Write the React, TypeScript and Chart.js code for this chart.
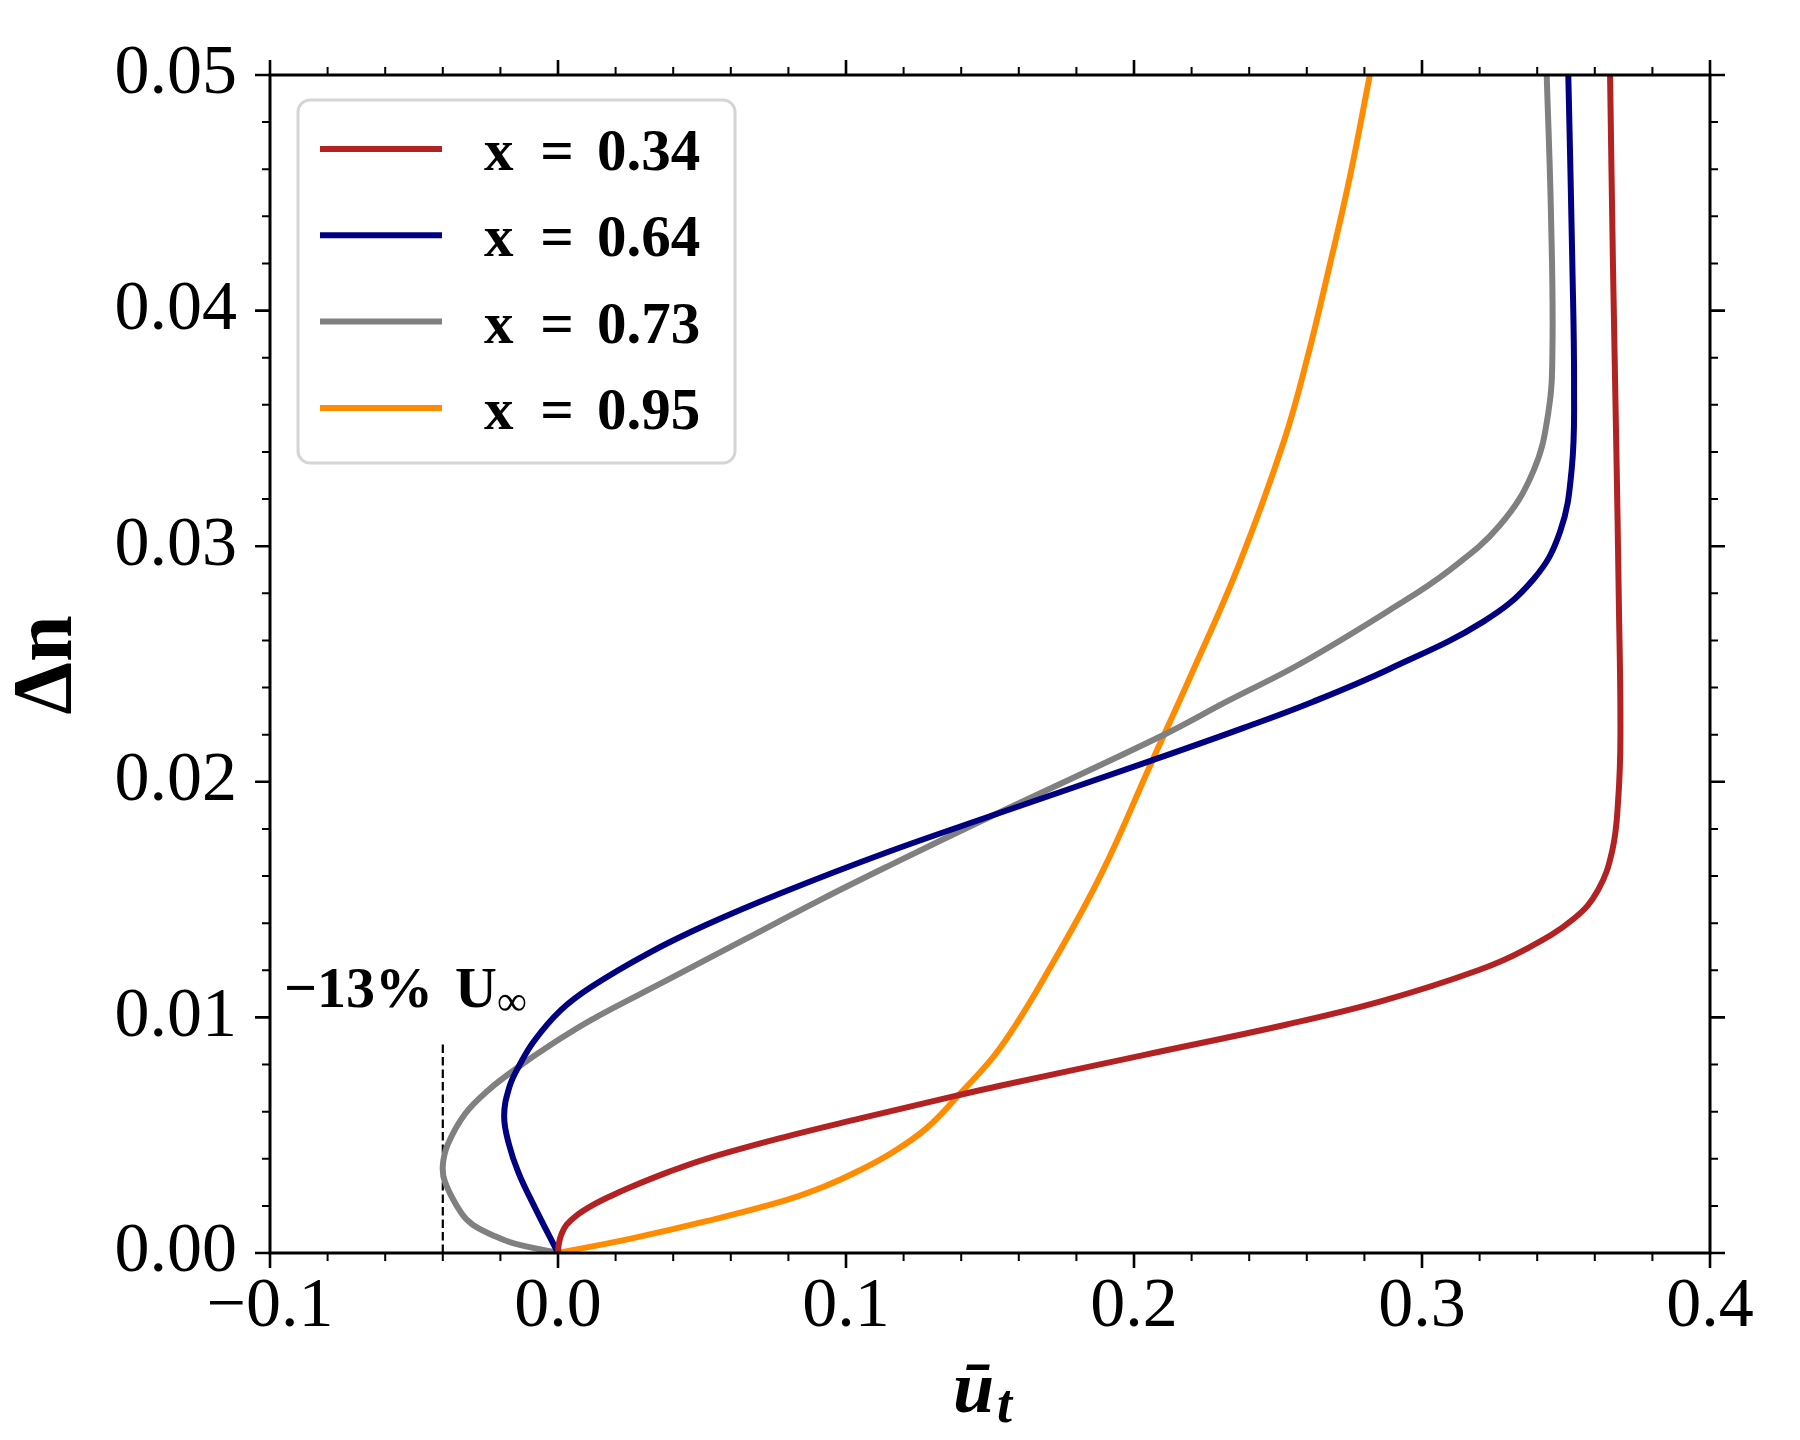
import React, { useEffect, useRef } from 'react';
import { Chart, registerables } from 'chart.js';

Chart.register(...registerables);

// ---------- data ----------
const SERIES_LABELS = ['x = 0.34', 'x = 0.64', 'x = 0.73', 'x = 0.95'];
const SERIES_COLORS = ['#b22222', '#000080', '#808080', '#ff8c00'];

const U_034 = [0, 0.0003, 0.0012, 0.003, 0.0065, 0.0116, 0.018, 0.0249, 0.038, 0.0515, 0.078, 0.1046, 0.1391, 0.1535, 0.2033, 0.2531, 0.2863, 0.3195, 0.3361, 0.3528, 0.3611, 0.3661, 0.3681, 0.3689, 0.3683, 0.3675, 0.3663, 0.3653];
const N_034 = [0, 0.0004, 0.0008, 0.0012, 0.0016, 0.002, 0.0024, 0.00278, 0.00342, 0.004, 0.0049, 0.0057, 0.0067, 0.0071, 0.0084, 0.0097, 0.0107, 0.012, 0.0129, 0.0142, 0.0154, 0.0171, 0.0192, 0.022, 0.028, 0.034, 0.042, 0.05];

const U_064 = [0, -0.0083, -0.0137, -0.017, -0.0187, -0.017, -0.0137, -0.0083, 0.0009, 0.0116, 0.0315, 0.0515, 0.0771, 0.1143, 0.1515, 0.206, 0.2383, 0.2622, 0.2889, 0.3213, 0.3387, 0.3479, 0.352, 0.3528, 0.3522, 0.3508];
const N_064 = [0, 0.002, 0.0034, 0.0046, 0.0058, 0.007, 0.0079, 0.009, 0.0103, 0.0113, 0.01273, 0.01393, 0.01526, 0.01701, 0.0186, 0.0209, 0.0223, 0.0234, 0.0248, 0.0268, 0.0286, 0.0306, 0.0333, 0.0367, 0.042, 0.05];

const U_073 = [0, -0.015, -0.0216, -0.0296, -0.0336, -0.0392, -0.04, -0.0383, -0.0323, -0.0243, -0.0137, -0.0017, 0.0116, 0.0382, 0.0647, 0.0913, 0.1143, 0.1515, 0.2104, 0.2321, 0.2576, 0.2889, 0.3097, 0.3271, 0.3387, 0.3439, 0.3453, 0.3448, 0.3433];
const N_073 = [0, 0.0004, 0.0007, 0.0012, 0.0017, 0.003, 0.0037, 0.0046, 0.0059, 0.0069, 0.0079, 0.0089, 0.0099, 0.0116, 0.0133, 0.015, 0.0164, 0.0186, 0.022, 0.0234, 0.025, 0.0273, 0.029, 0.0309, 0.0332, 0.0357, 0.0384, 0.044, 0.05];

const U_095 = [0, 0.0249, 0.0515, 0.078, 0.092, 0.1046, 0.1165, 0.128, 0.1391, 0.1535, 0.1713, 0.1887, 0.206, 0.2197, 0.2364, 0.2519, 0.26, 0.2681, 0.275, 0.2819];
const N_095 = [0, 0.0006, 0.00135, 0.0022, 0.0028, 0.0035, 0.0043, 0.0053, 0.0067, 0.0087, 0.0122, 0.0161, 0.0208, 0.0245, 0.0292, 0.0344, 0.0379, 0.042, 0.0457, 0.05];

const REF_U = [-0.04, -0.04];
const REF_N = [0, 0.0089];
const ANNOTATION_MAIN = '\u221213%';
const ANNOTATION_U = 'U';
const ANNOTATION_SUB = '\u221e';

const X_MIN = -0.1;
const X_MAX = 0.4;
const X_MAJOR = 0.1;
const X_MINOR = 0.02;
const Y_MIN = 0;
const Y_MAX = 0.05;
const Y_MAJOR = 0.01;
const Y_MINOR = 0.002;

const X_TITLE = '\u016b';
const X_TITLE_SUB = 't';
const Y_TITLE = '\u0394n';

const FONT = '"Liberation Serif", "DejaVu Serif", serif';

const toPoints = (u: number[], n: number[]) => u.map((v, i) => ({ x: v, y: n[i] }));

const SERIES = [
  toPoints(U_034, N_034),
  toPoints(U_064, N_064),
  toPoints(U_073, N_073),
  toPoints(U_095, N_095),
];

const decorPlugin = {
  id: 'decor',
  afterDraw(chart: any) {
    const ctx = chart.ctx as CanvasRenderingContext2D;
    const { left, right, top, bottom } = chart.chartArea;
    const xs = chart.scales.x;
    const ys = chart.scales.y;
    ctx.save();
    ctx.strokeStyle = '#000';
    ctx.fillStyle = '#000';

    // ticks
    const MAJ = 15;
    const MIN = 8;
    const isMajor = (v: number, step: number) => Math.abs(v / step - Math.round(v / step)) < 1e-6;
    const nx = Math.round((X_MAX - X_MIN) / X_MINOR);
    for (let i = 0; i <= nx; i++) {
      const v = X_MIN + i * X_MINOR;
      const px = xs.getPixelForValue(v);
      const maj = isMajor(v, X_MAJOR);
      const len = maj ? MAJ : MIN;
      ctx.lineWidth = maj ? 2.6 : 2;
      ctx.beginPath();
      ctx.moveTo(px, bottom);
      ctx.lineTo(px, bottom + len);
      ctx.moveTo(px, top);
      ctx.lineTo(px, top - len);
      ctx.stroke();
    }
    const ny = Math.round((Y_MAX - Y_MIN) / Y_MINOR);
    for (let i = 0; i <= ny; i++) {
      const v = Y_MIN + i * Y_MINOR;
      const py = ys.getPixelForValue(v);
      const maj = isMajor(v, Y_MAJOR);
      const len = maj ? MAJ : MIN;
      ctx.lineWidth = maj ? 2.6 : 2;
      ctx.beginPath();
      ctx.moveTo(left, py);
      ctx.lineTo(left - len, py);
      ctx.moveTo(right, py);
      ctx.lineTo(right + len, py);
      ctx.stroke();
    }
    // spines
    ctx.lineWidth = 3;
    ctx.strokeRect(left, top, right - left, bottom - top);

    // legend
    const bx = 298, by = 100, bw = 437, bh = 363, r = 12;
    ctx.beginPath();
    ctx.moveTo(bx + r, by);
    ctx.arcTo(bx + bw, by, bx + bw, by + bh, r);
    ctx.arcTo(bx + bw, by + bh, bx, by + bh, r);
    ctx.arcTo(bx, by + bh, bx, by, r);
    ctx.arcTo(bx, by, bx + bw, by, r);
    ctx.closePath();
    ctx.fillStyle = 'rgba(255,255,255,0.8)';
    ctx.fill();
    ctx.strokeStyle = '#d5d5d5';
    ctx.lineWidth = 3;
    ctx.stroke();

    chart.data.datasets.forEach((ds: any, i: number) => {
      if (!ds.label) return;
      const rowY = 149 + 86.3 * i;
      ctx.strokeStyle = ds.borderColor;
      ctx.lineWidth = 6;
      ctx.beginPath();
      ctx.moveTo(320, rowY);
      ctx.lineTo(442, rowY);
      ctx.stroke();
      const parts = String(ds.label).split(' = ');
      ctx.fillStyle = '#000';
      ctx.font = `bold 59px ${FONT}`;
      ctx.textBaseline = 'alphabetic';
      ctx.textAlign = 'left';
      ctx.fillText(parts[0], 484, rowY + 21);
      ctx.textAlign = 'center';
      ctx.fillText('=', 557, rowY + 21);
      ctx.textAlign = 'left';
      ctx.fillText(parts[1], 597, rowY + 21);
    });

    // annotation
    ctx.fillStyle = '#000';
    ctx.textAlign = 'left';
    ctx.textBaseline = 'alphabetic';
    ctx.font = `bold 58px ${FONT}`;
    ctx.fillText(ANNOTATION_MAIN, 284, 1007);
    ctx.fillText(ANNOTATION_U, 455, 1007);
    ctx.font = `42px ${FONT}`;
    ctx.fillText(ANNOTATION_SUB, 497, 1015);

    // x title
    ctx.font = `italic bold 74px ${FONT}`;
    ctx.fillText(X_TITLE, 953, 1412);
    ctx.font = `italic bold 54px ${FONT}`;
    ctx.fillText(X_TITLE_SUB, 997, 1422);

    // y title
    ctx.save();
    ctx.translate(49, 665);
    ctx.rotate(-Math.PI / 2);
    ctx.font = `bold 84px ${FONT}`;
    ctx.textAlign = 'center';
    ctx.textBaseline = 'middle';
    ctx.fillText(Y_TITLE, 0, 0);
    ctx.restore();

    ctx.restore();
  },
};

const bgPlugin = {
  id: 'bg',
  beforeDraw(chart: any) {
    const ctx = chart.ctx;
    ctx.save();
    ctx.fillStyle = '#fff';
    ctx.fillRect(0, 0, chart.width, chart.height);
    ctx.restore();
  },
};

const fmt = (v: number, d: number) => {
  if (Math.abs(v) < 1e-9) return (0).toFixed(d);
  return v.toFixed(d).replace('-', '\u2212');
};

export default function App() {
  const ref = useRef<HTMLCanvasElement | null>(null);
  useEffect(() => {
    if (!ref.current) return;
    const datasets: any[] = SERIES.map((pts, i) => ({
      label: SERIES_LABELS[i],
      data: pts,
      borderColor: SERIES_COLORS[i],
      backgroundColor: SERIES_COLORS[i],
      borderWidth: 6,
      pointRadius: 0,
      showLine: true,
      tension: 0.4,
      fill: false,
    }));
    datasets.push({
      label: '',
      data: toPoints(REF_U, REF_N),
      borderColor: '#000',
      borderWidth: 2.2,
      borderDash: [8.5, 4],
      pointRadius: 0,
      showLine: true,
      tension: 0,
      fill: false,
    });
    const chart = new Chart(ref.current, {
      type: 'scatter',
      data: { datasets },
      options: {
        animation: false,
        responsive: false,
        devicePixelRatio: 1,
        layout: { padding: { left: 0, right: 90, top: 72, bottom: 0 } },
        plugins: { legend: { display: false }, tooltip: { enabled: false } },
        scales: {
          x: {
            type: 'linear',
            min: X_MIN,
            max: X_MAX,
            grid: { display: false, drawTicks: false },
            border: { display: false },
            ticks: {
              stepSize: X_MAJOR,
              padding: 13,
              color: '#000',
              maxRotation: 0,
              autoSkip: false,
              font: { family: FONT, size: 70 },
              callback: (v: any) => fmt(Number(v), 1),
            },
            afterFit: (s: any) => { s.height = 187; },
          },
          y: {
            type: 'linear',
            min: Y_MIN,
            max: Y_MAX,
            grid: { display: false, drawTicks: false },
            border: { display: false },
            ticks: {
              stepSize: Y_MAJOR,
              padding: 33,
              color: '#000',
              autoSkip: false,
              font: { family: FONT, size: 70 },
              callback: (v: any) => fmt(Number(v), 2),
            },
            afterFit: (s: any) => { s.width = 270; },
          },
        },
      } as any,
      plugins: [bgPlugin, decorPlugin],
    });
    return () => chart.destroy();
  }, []);
  return (
    <div style={{ position: 'absolute', left: 0, top: 0, width: 1800, height: 1440 }}>
      <canvas ref={ref} width={1800} height={1440} style={{ width: 1800, height: 1440 }} />
    </div>
  );
}
